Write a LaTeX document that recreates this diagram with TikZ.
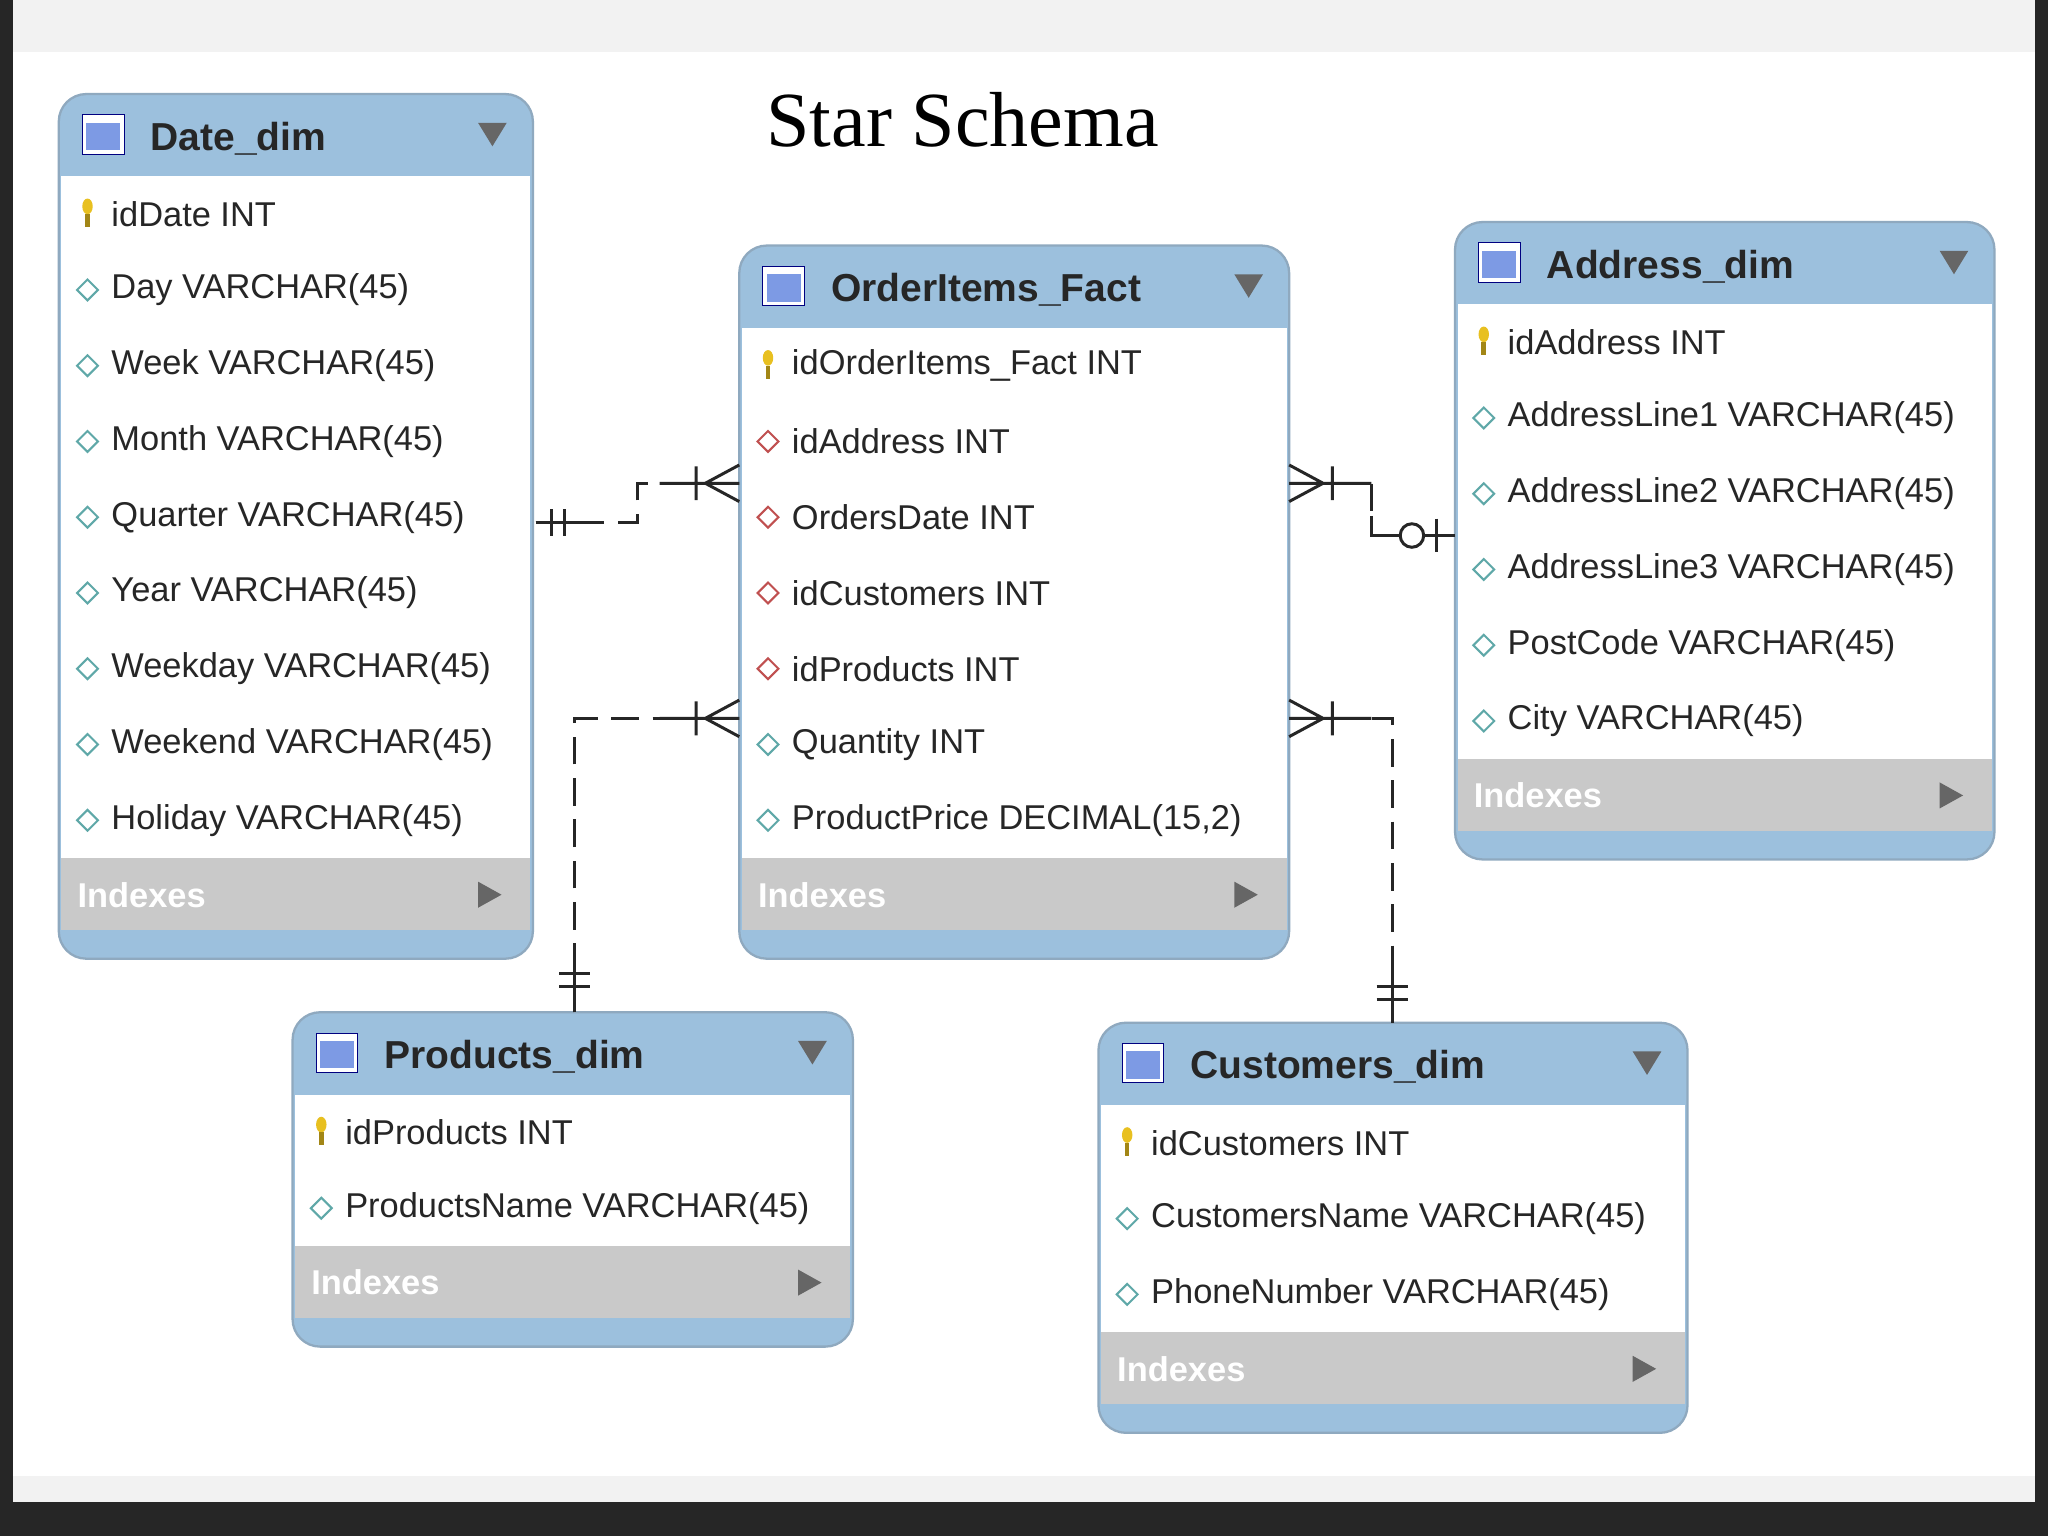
\documentclass[tikz,border=0pt]{standalone}
\usepackage{fontspec}
\setmainfont{Liberation Sans}
\newfontfamily\titlefont{Liberation Serif}
\begin{document}
\definecolor{hdr}{HTML}{9CC0DD}
\definecolor{idx}{HTML}{C9C9C9}
\definecolor{bord}{HTML}{8FA9BF}
\definecolor{dia}{HTML}{5FA8A8}
\definecolor{fk}{HTML}{C05050}
\definecolor{keyc}{HTML}{E8C020}
\tikzset{
 rowtxt/.style={anchor=west,font=\fontsize{15}{17}\selectfont,text=black!85,inner sep=0},
 hdrtxt/.style={anchor=west,font=\bfseries\fontsize{17}{19}\selectfont,text=black!85,inner sep=0},
 idxtxt/.style={anchor=west,font=\bfseries\fontsize{15}{17}\selectfont,text=white,inner sep=0},
 rel/.style={draw=black!85,line width=1.3pt},
 reld/.style={rel,dash pattern=on 12pt off 6pt},
}
\newcommand\diam[3]{\draw[#3,line width=0.9pt,fill=white] (#1-8,#2)--(#1,#2-8)--(#1+8,#2)--(#1,#2+8)--cycle;}
\newcommand\keyic[2]{\fill[keyc] (#1,#2-6) ellipse (4 and 6); \draw[keyc!70!black,line width=2pt] (#1,#2)--(#1,#2+10);}
\newcommand\ertable[7]{%
 \pgfmathsetmacro\ya{#3+63}%
 \pgfmathsetmacro\yb{#3+63+58*#6}%
 \pgfmathsetmacro\yc{\yb+55}%
 \pgfmathsetmacro\yd{\yc+22}%
 \pgfmathsetmacro\xm{(#2+#4)/2}%
 \fill[hdr,rounded corners=12] (#2,#3) rectangle (#4,\yd);
 \fill[white] (#2+2,\ya) rectangle (#4-2,\yb);
 \fill[idx] (#2+2,\yb) rectangle (#4-2,\yc);
 \draw[bord,rounded corners=12,line width=1pt] (#2,#3) rectangle (#4,\yd);
 \node[name=#1,inner sep=0,minimum size=1pt] at (\xm,{(#3+\yd)/2}) {};
 \fill[white] (#2+18,#3+16) rectangle (#2+50,#3+46);
 \fill[hdr!80!blue] (#2+21,#3+22) rectangle (#2+47,#3+43);
 \draw[blue!50!black] (#2+18,#3+16) rectangle (#2+50,#3+46);
 \node[hdrtxt] at (#2+70,#3+34) {#5};
 \fill[black!60] (#4-42,#3+22)--(#4-20,#3+22)--(#4-31,#3+40)--cycle;
 \node[idxtxt] at (#2+14,\yb+28) {Indexes};
 \fill[black!60] (#4-42,\yb+18)--(#4-24,\yb+28)--(#4-42,\yb+38)--cycle;
 \foreach[count=\i] \t/\s in {#7}{%
   \pgfmathsetmacro\yy{#3+63+58*\i-29}%
   \if\t k\keyic{#2+22}{\yy}\fi
   \if\t d\diam{#2+22}{\yy}{dia}\fi
   \if\t f\diam{#2+22}{\yy}{fk}\fi
   \node[rowtxt] at (#2+40,\yy) {\s};
 }%
}
\begin{tikzpicture}[x=0.02cm,y=-0.02cm]
\fill[black!85] (0,0) rectangle (1568,1176);
\fill[black!5] (10,0) rectangle (1558,1150);
\fill[white] (10,40) rectangle (1558,1130);
\useasboundingbox (0,0) rectangle (1568,1176);
\node[font=\titlefont\fontsize{34}{36}\selectfont] (title) at (737,92) {Star Schema};

\ertable{date}{45}{72}{408}{Date\_dim}{9}{k/idDate INT,d/Day VARCHAR(45),d/Week VARCHAR(45),d/Month VARCHAR(45),d/Quarter VARCHAR(45),d/Year VARCHAR(45),d/Weekday VARCHAR(45),d/Weekend VARCHAR(45),d/Holiday VARCHAR(45)}
\ertable{fact}{566}{188}{987}{OrderItems\_Fact}{7}{k/idOrderItems\_Fact INT,f/idAddress INT,f/OrdersDate INT,f/idCustomers INT,f/idProducts INT,d/Quantity INT,d/ProductPrice DECIMAL(15{,}2)}
\ertable{addr}{1114}{170}{1527}{Address\_dim}{6}{k/idAddress INT,d/AddressLine1 VARCHAR(45),d/AddressLine2 VARCHAR(45),d/AddressLine3 VARCHAR(45),d/PostCode VARCHAR(45),d/City VARCHAR(45)}
\ertable{prod}{224}{775}{653}{Products\_dim}{2}{k/idProducts INT,d/ProductsName VARCHAR(45)}
\ertable{cust}{841}{783}{1292}{Customers\_dim}{3}{k/idCustomers INT,d/CustomersName VARCHAR(45),d/PhoneNumber VARCHAR(45)}

\coordinate (d1) at (410,400); \coordinate (d2) at (488,400); \coordinate (d3) at (488,370); \coordinate (f1) at (566,370);
\coordinate (p1) at (440,775); \coordinate (p2) at (440,550); \coordinate (f2) at (566,550);
\coordinate (f3) at (987,370); \coordinate (a1) at (1050,370); \coordinate (a2) at (1050,410); \coordinate (a3) at (1114,410);
\coordinate (f4) at (987,550); \coordinate (c1) at (1066,550); \coordinate (c2) at (1066,783);

\draw[reld] (d1)--(d2)--(d3)--(f1);
\draw[rel] (d1)--(450,400) (422,390)--(422,410) (432,390)--(432,410);
\draw[rel] (505,370)--(f1) (533,357)--(533,383) (540,370)--(566,356) (540,370)--(566,384);
\draw[reld] (p1)--(p2)--(f2);
\draw[rel] (p1)--(440,735) (428,745)--(452,745) (428,755)--(452,755);
\draw[rel] (505,550)--(f2) (533,537)--(533,563) (540,550)--(566,536) (540,550)--(566,564);
\draw[reld] (f3)--(a1)--(a2)--(a3);
\draw[rel] (f3)--(1050,370) (1020,357)--(1020,383) (1013,370)--(987,356) (1013,370)--(987,384);
\draw[rel] (1050,395)--(a2)--(a3) (1100,397)--(1100,423);
\draw[rel,fill=white] (1081,410) circle (9);
\draw[reld] (f4)--(c1)--(c2);
\draw[rel] (f4)--(1050,550) (1020,537)--(1020,563) (1013,550)--(987,536) (1013,550)--(987,564);
\draw[rel] (c2)--(1066,745) (1054,755)--(1078,755) (1054,765)--(1078,765);
\end{tikzpicture}
\end{document}
